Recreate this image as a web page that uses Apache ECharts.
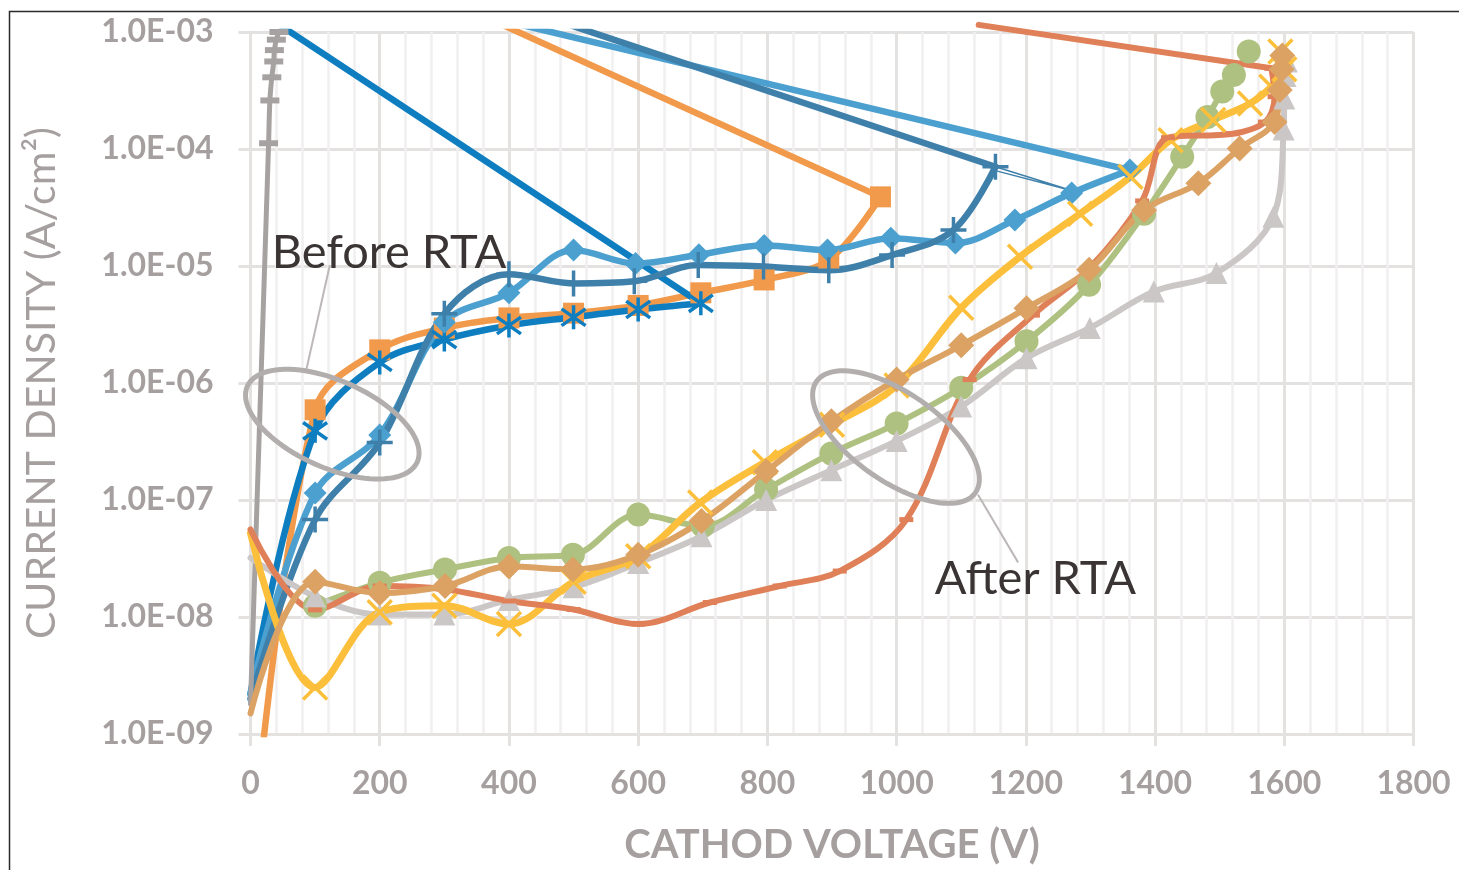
<!DOCTYPE html>
<html><head><meta charset="utf-8">
<script src="https://cdn.jsdelivr.net/npm/echarts@6/dist/echarts.min.js"></script>
<style>html,body{margin:0;padding:0;background:#fff;}#c{width:1459px;height:870px;}</style>
</head><body><div id="c"></div>
<script>
// ---------------- DATA (cathode voltage V, current density A/cm^2) ----------------
// Before RTA (last point of each = end of the reverse sweep)
const orangeSqV = [0, 100, 200, 300, 400, 500, 600, 697, 795, 895, 975, 0];
const orangeSqJ = [7e-11, 5.9e-7, 1.92e-6, 2.95e-6, 3.6e-6, 3.95e-6, 4.6e-6, 5.9e-6, 7.6e-6, 1.13e-5, 3.9e-5, 1.1e-2];
const blueStarV = [0, 100, 200, 300, 400, 500, 600, 697, 45];
const blueStarJ = [2.2e-9, 3.9e-7, 1.5e-6, 2.35e-6, 3.1e-6, 3.65e-6, 4.25e-6, 4.8e-6, 1.15e-3];
const ltBlueDiaV = [0, 100, 200, 300, 400, 500, 596, 694, 795, 893, 991, 1091, 1183, 1271, 1361, 0];
const ltBlueDiaJ = [2.2e-9, 1.15e-7, 3.6e-7, 3.3e-6, 5.9e-6, 1.37e-5, 1.05e-5, 1.25e-5, 1.5e-5, 1.37e-5, 1.73e-5, 1.57e-5, 2.47e-5, 4.2e-5, 6.6e-5, 4.1e-3];
const steelPlusV = [0, 100, 200, 300, 400, 500, 594, 693, 794, 895, 993, 1088, 1153, 0];
const steelPlusJ = [2e-9, 6.8e-8, 3.1e-7, 3.9e-6, 8.5e-6, 7.1e-6, 7.4e-6, 1.02e-5, 9.9e-6, 9.2e-6, 1.24e-5, 2.03e-5, 7.05e-5, 9.3e-3];
const steelThinV = [1153, 1272, 1150];
const steelThinJ = [7.05e-5, 4.4e-5, 6.6e-5];
const grayDashV = [0, 28, 30, 33, 36, 37, 40, 44, 48];
const grayDashJ = [1.8e-9, 1.12e-4, 2.6e-4, 4.1e-4, 5.6e-4, 7e-4, 8.6e-4, 1.0e-3, 1.05e-3];
// After RTA
const greenCirV = [100, 200, 301, 400, 499, 600, 700, 798, 899, 1000, 1100, 1201, 1298, 1383, 1442, 1481, 1504, 1522, 1545];
const greenCirJ = [1.25e-8, 1.96e-8, 2.55e-8, 3.2e-8, 3.4e-8, 7.5e-8, 6.0e-8, 1.23e-7, 2.5e-7, 4.5e-7, 9.1e-7, 2.27e-6, 6.9e-6, 2.8e-5, 8.6e-5, 1.88e-4, 3.1e-4, 4.3e-4, 6.8e-4];
const ltGrayTriV = [0, 100, 200, 300, 400, 500, 600, 698, 798, 899, 1000, 1100, 1201, 1299, 1398, 1495, 1583, 1599, 1600, 1602, 1604];
const ltGrayTriJ = [3.2e-8, 1.5e-8, 1.05e-8, 1.05e-8, 1.4e-8, 1.8e-8, 2.9e-8, 4.9e-8, 1.0e-7, 1.8e-7, 3.2e-7, 6.3e-7, 1.63e-6, 2.95e-6, 6.05e-6, 8.7e-6, 2.64e-5, 1.47e-4, 2.7e-4, 4.2e-4, 5.6e-4];
const yellowXV = [0, 100, 200, 300, 400, 500, 600, 696, 796, 900, 1000, 1100, 1191, 1284, 1362, 1424, 1490, 1547, 1580, 1600, 1594];
const yellowXJ = [5.2e-8, 2.5e-9, 1.1e-8, 1.25e-8, 8.7e-9, 2.0e-8, 3.3e-8, 9.5e-8, 2.1e-7, 4.4e-7, 9.5e-7, 4.4e-6, 1.2e-5, 2.8e-5, 5.8e-5, 1.19e-4, 1.77e-4, 2.45e-4, 3.4e-4, 4.8e-4, 6.8e-4];
const redDashV = [0, 100, 200, 300, 400, 500, 600, 711, 819, 912, 1015, 1113, 1211, 1298, 1380, 1420, 1520, 1570, 1585, 1580, 1127];
const redDashJ = [5.6e-8, 1.15e-8, 1.84e-8, 1.73e-8, 1.37e-8, 1.16e-8, 8.7e-9, 1.33e-8, 1.84e-8, 2.47e-8, 6.8e-8, 1.07e-6, 3.8e-6, 9.5e-6, 3.6e-5, 1.25e-4, 1.35e-4, 1.7e-4, 2.8e-4, 4.9e-4, 1.15e-3];
const tanDiaV = [0, 100, 200, 301, 400, 499, 600, 698, 798, 899, 1000, 1100, 1201, 1298, 1383, 1467, 1531, 1585, 1593, 1596, 1597];
const tanDiaJ = [1.5e-9, 2.0e-8, 1.6e-8, 1.84e-8, 2.7e-8, 2.55e-8, 3.4e-8, 6.6e-8, 1.76e-7, 4.7e-7, 1.07e-6, 2.1e-6, 4.36e-6, 9.3e-6, 3.0e-5, 5.1e-5, 1.01e-4, 1.7e-4, 3.2e-4, 4.8e-4, 6.3e-4];

// Axis ticks / labels
const xTicks = [0, 200, 400, 600, 800, 1000, 1200, 1400, 1600, 1800];
const yTickLabels = ['1.0E-09', '1.0E-08', '1.0E-07', '1.0E-06', '1.0E-05', '1.0E-04', '1.0E-03'];
const xTitle = 'CATHOD VOLTAGE (V)';
const yTitle = 'CURRENT DENSITY (A/cm\u00B2)';
const notes = ['Before RTA', 'After RTA'];

// ---------------- STYLE ----------------
const FONT = 'Lato, "Open Sans", sans-serif';
const AX = '#A59F9F';
const MAJ = '#E4E1E1';
const MIN = '#F1EFEF';
const LW = 6.5;

const STAR = 'path://M0,-10L0,10M-8,-7L8,7M-8,7L8,-7';
const PLUS = 'path://M0,-10L0,10M-10,0L10,0';
const XMK = 'path://M-10,-10L10,10M-10,10L10,-10';

function pairs(vs, js) { return vs.map((v, i) => [v, js[i]]); }

function lineSeries(name, data, color, symbol, size, opts) {
  opts = opts || {};
  return Object.assign({
    name: name, type: 'line', data: data, smooth: 0.35,
    symbol: symbol, symbolSize: size, showAllSymbol: true,
    lineStyle: { color: color, width: opts.lw || LW, cap: 'round', join: 'round' },
    itemStyle: opts.stroke ? { color: 'rgba(0,0,0,0)', borderColor: color, borderWidth: 3.5 } : { color: color, borderWidth: 0 },
    emphasis: { disabled: true }, z: 3, animation: false
  }, opts.extra || {});
}
// data with the marker hidden on the first (0 V) point
function hideFirst(d) { const o = d.slice(); o[0] = { value: o[0], symbol: 'none' }; return o; }

// Curve with forward sweep (smoothed, with markers) + straight reverse sweep
function sweep(name, vs, js, color, symbol, size, opts, clipRev) {
  const all = pairs(vs, js);
  const fwd = all.slice(0, all.length - 1);
  const rev = all.slice(all.length - 2);
  return [
    lineSeries(name, hideFirst(fwd), color, symbol, size, opts),
    lineSeries(name + '-rev', rev, color, 'none', 0, { lw: (opts && opts.lw) || LW, extra: { smooth: false, clip: clipRev !== false } })
  ];
}

// minor log gridlines (2..9 x 10^n)
const yMinor = [];
for (let e = -9; e <= -4; e++) for (let k = 2; k <= 9; k++) yMinor.push(k * Math.pow(10, e));

const series = [
  {
    type: 'line', data: [[0, 1e-9]], symbol: 'none', lineStyle: { opacity: 0 }, z: 1, silent: true,
    markLine: { silent: true, z: 1, symbol: ['none', 'none'], label: { show: false }, animation: false,
      lineStyle: { color: MIN, width: 2.5, type: 'solid' }, emphasis: { disabled: true },
      data: yMinor.map(v => ({ yAxis: v })) }
  },
  ...sweep('before-orange', orangeSqV, orangeSqJ, '#F29A4B', 'rect', 21),
  ...sweep('before-blue', blueStarV, blueStarJ, '#0E7EC0', STAR, 24, { stroke: true }),
  ...sweep('before-ltblue', ltBlueDiaV, ltBlueDiaJ, '#4BA0D0', 'diamond', 23),
  ...sweep('before-steel', steelPlusV, steelPlusJ, '#3F80AB', PLUS, 26, { stroke: true }),
  lineSeries('before-steel-thin', pairs(steelThinV, steelThinJ), '#3F80AB', 'none', 0, { lw: 1.5, extra: { smooth: false } }),
  lineSeries('before-gray', hideFirst(pairs(grayDashV, grayDashJ)), '#A7A2A2', 'rect', [19, 6], { lw: 5 }),
  lineSeries('after-green', pairs(greenCirV, greenCirJ), '#AFC180', 'circle', 24, { lw: 6 }),
  lineSeries('after-ltgray', hideFirst(pairs(ltGrayTriV, ltGrayTriJ)), '#CBC7C7', 'triangle', 22, { lw: 6 }),
  lineSeries('after-yellow', hideFirst(pairs(yellowXV, yellowXJ)), '#FBBF3B', XMK, 24, { stroke: true, lw: 7 }),
  ...sweep('after-red', redDashV, redDashJ, '#DF8058', 'rect', [14, 5], { lw: 6 }, false),
  lineSeries('after-tan', hideFirst(pairs(tanDiaV, tanDiaJ)), '#DCA263', 'diamond', 26, { lw: 6 })
];

const option = {
  animation: false,
  backgroundColor: '#ffffff',
  grid: { left: 250.5, right: 45.5, top: 32, bottom: 135, containLabel: false },
  xAxis: {
    type: 'value', min: 0, max: 1800, interval: 200,
    name: xTitle, nameLocation: 'middle', nameGap: 91,
    nameTextStyle: { color: AX, fontFamily: FONT, fontWeight: 'bold', fontSize: 40 },
    axisLine: { show: true, lineStyle: { color: MAJ, width: 3 } },
    axisTick: { show: true, length: 12, lineStyle: { color: MAJ, width: 3 } },
    axisLabel: { color: AX, fontFamily: FONT, fontWeight: 'bold', fontSize: 32, margin: 34,
      formatter: v => String(xTicks[xTicks.indexOf(v)]) },
    splitLine: { show: true, lineStyle: { color: MAJ, width: 3 } },
    minorTick: { show: false, splitNumber: 5 },
    minorSplitLine: { show: true, lineStyle: { color: MIN, width: 2.5 } }
  },
  yAxis: {
    type: 'log', logBase: 10, min: 1e-9, max: 1e-3, splitNumber: 6,
    name: yTitle, nameLocation: 'middle', nameRotate: 90, nameGap: 188,
    nameTextStyle: { color: AX, fontFamily: FONT, fontSize: 41 },
    axisLine: { show: true, lineStyle: { color: MAJ, width: 3 } },
    axisTick: { show: true, length: 12, lineStyle: { color: MAJ, width: 3 } },
    axisLabel: { color: AX, fontFamily: FONT, fontWeight: 'bold', fontSize: 32, margin: 37,
      formatter: v => yTickLabels[Math.round(Math.log10(v)) + 9] },
    splitLine: { show: true, lineStyle: { color: MAJ, width: 3 } },
    minorSplitLine: { show: false }
  },
  series: series
};

const chart = echarts.init(document.getElementById('c'), null, { renderer: 'canvas' });
chart.setOption(option);

// ---------------- annotations (anchored in data coordinates) ----------------
const P = (v, j) => chart.convertToPixel({ gridIndex: 0 }, [v, j]);
function ellipsePts(c, a, b, deg) {
  const t = deg * Math.PI / 180, pts = [];
  for (let i = 0; i < 96; i++) {
    const u = i / 96 * 2 * Math.PI;
    const x = a * Math.cos(u), y = b * Math.sin(u);
    pts.push([c[0] + x * Math.cos(t) - y * Math.sin(t), c[1] + x * Math.sin(t) + y * Math.cos(t)]);
  }
  return pts;
}
const EL = '#B3AEAE';
const bC = P(126.6, 4.45e-7), aC = P(999, 3.45e-7);
const bL1 = P(122.8, 1.02e-5), bL2 = P(86.4, 1.3e-6);
const aL1 = P(1126, 1.11e-7), aL2 = P(1188, 2.93e-8);
const bT = P(33, 1.3e-5), aT = P(1059, 2.1e-8);

chart.setOption({
  graphic: [
    { type: 'rect', silent: true, z: 100, shape: { x: 9.5, y: 11.5, width: 1470, height: 900 },
      style: { fill: 'none', stroke: '#2b2b2b', lineWidth: 1.5 } },
    { type: 'line', silent: true, z: 50, shape: { x1: bL1[0], y1: bL1[1], x2: bL2[0], y2: bL2[1] },
      style: { stroke: '#BDB8B8', lineWidth: 2 } },
    { type: 'line', silent: true, z: 50, shape: { x1: aL1[0], y1: aL1[1], x2: aL2[0], y2: aL2[1] },
      style: { stroke: '#BDB8B8', lineWidth: 2 } },
    { type: 'polygon', silent: true, z: 50, shape: { points: ellipsePts(bC, 93, 43.5, 24) },
      style: { fill: 'none', stroke: EL, lineWidth: 5 } },
    { type: 'polygon', silent: true, z: 50, shape: { points: ellipsePts(aC, 97, 44, 35) },
      style: { fill: 'none', stroke: EL, lineWidth: 5 } },
    { type: 'text', silent: true, z: 60, x: bT[0], y: bT[1],
      style: { text: notes[0], font: '47px ' + FONT, fill: '#3A3434', align: 'left', verticalAlign: 'middle', textAlign: 'left', textVerticalAlign: 'middle' } },
    { type: 'text', silent: true, z: 60, x: aT[0], y: aT[1],
      style: { text: notes[1], font: '47px ' + FONT, fill: '#3A3434', align: 'left', verticalAlign: 'middle', textAlign: 'left', textVerticalAlign: 'middle' } }
  ]
});
</script>
</body></html>
